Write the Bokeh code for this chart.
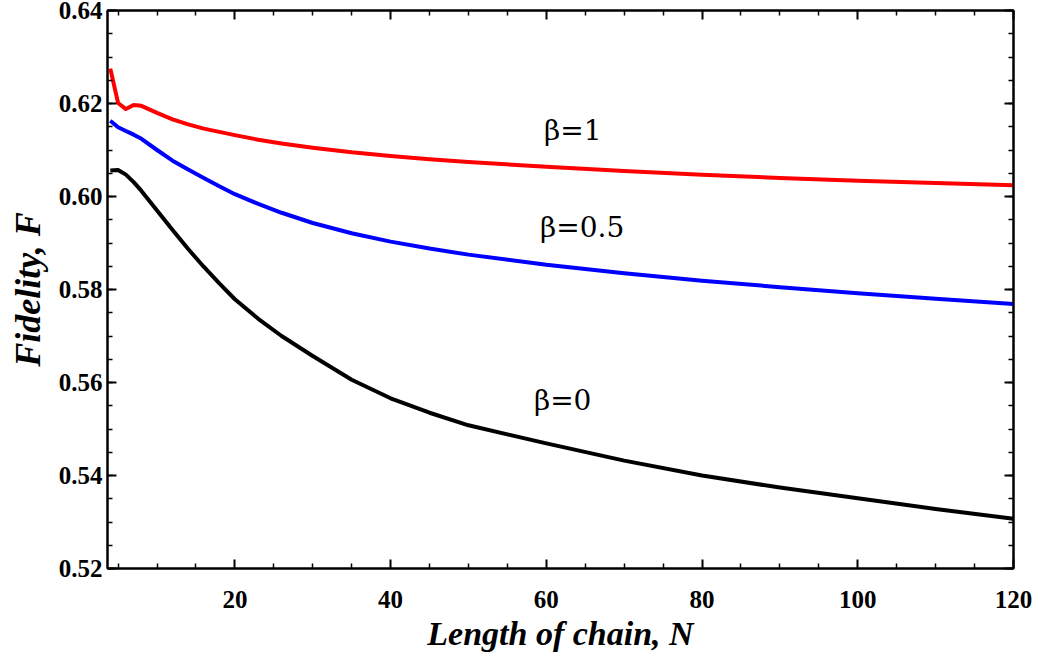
from bokeh.plotting import figure
from bokeh.models import LinearAxis, FixedTicker, Range1d
from bokeh.core.properties import value
from bokeh.embed import file_html
from bokeh.resources import INLINE

# ---- data ----
N = [4, 5, 6, 7, 8, 10, 12, 14, 16, 18, 20, 23, 26, 30, 35, 40, 45, 50, 60, 70, 80, 90, 100, 110, 120]
F_beta1 = [0.6275, 0.6201, 0.6188, 0.6197, 0.6195, 0.6180, 0.6166, 0.6155, 0.6146, 0.6139,
           0.6132, 0.6122, 0.6114, 0.6105, 0.6095, 0.6087, 0.6080, 0.6074, 0.6064, 0.6055,
           0.6047, 0.6040, 0.6034, 0.6029, 0.6024]
F_beta05 = [0.6163, 0.6149, 0.6141, 0.6133, 0.6124, 0.6100, 0.6077, 0.6058, 0.6040, 0.6022,
            0.6005, 0.5984, 0.5965, 0.5943, 0.5921, 0.5903, 0.5888, 0.5875, 0.5853, 0.5835,
            0.5819, 0.5805, 0.5792, 0.5780, 0.5769]
F_beta0 = [0.6056, 0.6057, 0.6047, 0.6031, 0.6012, 0.5970, 0.5928, 0.5887, 0.5849, 0.5813,
           0.5779, 0.5737, 0.5700, 0.5657, 0.5606, 0.5566, 0.5535, 0.5508, 0.5469, 0.5432,
           0.5400, 0.5374, 0.5351, 0.5328, 0.5307]

series_labels = ["β=1", "β=0.5", "β=0"]
series_colors = ["#ff0000", "#0000ff", "#000000"]
label_N = [63.4, 64.6, 62.1]
label_F = [0.6142, 0.5933, 0.5561]

x_ticks = [20, 40, 60, 80, 100, 120]
y_ticks = [0.52, 0.54, 0.56, 0.58, 0.60, 0.62, 0.64]
y_tick_labels = {0.52: "0.52", 0.54: "0.54", 0.56: "0.56", 0.58: "0.58",
                 0.60: "0.60", 0.62: "0.62", 0.64: "0.64"}

x_minor = [5 * i for i in range(1, 25) if (5 * i) % 20 != 0]
y_minor = [round(0.52 + 0.005 * i, 3) for i in range(0, 25)]

p = figure(width=1038, height=657, output_backend="svg", toolbar_location=None,
           x_range=Range1d(3.64, 120), y_range=Range1d(0.52, 0.64),
           min_border_left=107, min_border_right=25, min_border_top=10, min_border_bottom=89)
p.background_fill_color = "white"
p.border_fill_color = "white"
p.grid.visible = False
p.outline_line_color = "black"
p.outline_line_width = 2

for ys, col in zip([F_beta1, F_beta05, F_beta0], series_colors):
    p.line(N, ys, line_color=col, line_width=4, line_join="round")

xt = FixedTicker(ticks=x_ticks, minor_ticks=x_minor)
yt = FixedTicker(ticks=y_ticks, minor_ticks=y_minor)

tick_font = "Liberation Serif"

def style_axis(ax, show_labels):
    ax.major_tick_in = 9
    ax.major_tick_out = 0
    ax.minor_tick_in = 5
    ax.minor_tick_out = 0
    ax.axis_line_width = 2
    ax.major_tick_line_width = 2
    ax.minor_tick_line_width = 1.5
    ax.axis_line_color = "black"
    ax.major_tick_line_color = "black"
    ax.minor_tick_line_color = "black"
    if show_labels:
        ax.major_label_text_font = tick_font
        ax.major_label_text_font_style = "bold"
        ax.major_label_text_font_size = "25px"
        ax.major_label_text_color = "black"
    else:
        ax.major_label_text_font_size = "0px"
        ax.major_label_standoff = 0

xa = p.xaxis[0]
xa.ticker = xt
style_axis(xa, True)
xa.major_label_standoff = 22
xa.axis_label = "Length of chain, N"
xa.axis_label_text_font = tick_font
xa.axis_label_text_font_style = "bold italic"
xa.axis_label_text_font_size = "34px"
xa.axis_label_text_color = "black"
xa.axis_label_standoff = 4

ya = p.yaxis[0]
ya.ticker = yt
ya.major_label_overrides = y_tick_labels
style_axis(ya, True)
ya.major_label_standoff = 5
ya.axis_label = "Fidelity, F"
ya.axis_label_text_font = tick_font
ya.axis_label_text_font_style = "bold italic"
ya.axis_label_text_font_size = "36px"
ya.axis_label_text_color = "black"
ya.axis_label_standoff = 8

top = LinearAxis(ticker=FixedTicker(ticks=x_ticks, minor_ticks=x_minor))
style_axis(top, False)
p.add_layout(top, "above")
right = LinearAxis(ticker=FixedTicker(ticks=y_ticks, minor_ticks=y_minor))
style_axis(right, False)
p.add_layout(right, "right")

p.text(x=label_N, y=label_F, text=series_labels, text_font=value("DejaVu Serif"),
       text_font_size="28px", text_align="center", text_baseline="middle", text_color="black")

open("out.html", "w").write(file_html(p, INLINE))
